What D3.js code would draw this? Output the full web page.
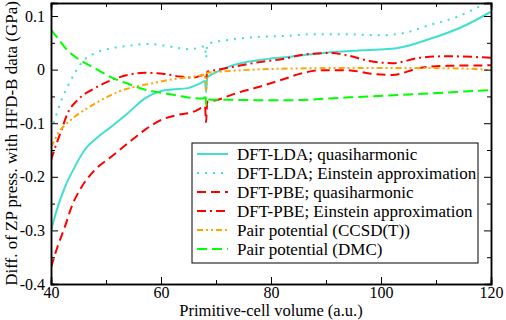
<!DOCTYPE html>
<html>
<head>
<meta charset="utf-8">
<script src="https://cdn.jsdelivr.net/npm/d3@7"></script>
<style>
  body { margin: 0; background: #fff; }
  svg { display: block; font-family: "Liberation Serif", "Times New Roman", serif; }
  .axis text { font-size: 16px; fill: #000; font-family: "Liberation Serif", serif; }
  .axis path, .axis line { stroke: #000; }
</style>
</head>
<body>
<svg id="chart" width="506" height="320"></svg>
<script>
/* values: volume (a.u.) and pressure difference (GPa) */
var ldaQhV = [40, 41.2, 42.5, 44.3, 46.1, 48.5, 50.9, 53.9, 57, 60, 62.1, 64.6, 67.6, 68.0, 68.2, 68.4, 70, 73, 77.9, 83.4, 89.4, 96.6, 102.8, 108.8, 114.8, 120];
var ldaQhP = [-0.30, -0.257, -0.22, -0.182, -0.15, -0.126, -0.107, -0.082, -0.054, -0.04, -0.037, -0.035, -0.023, -0.021, -0.042, -0.015, -0.005, 0.008, 0.018, 0.024, 0.031, 0.036, 0.040, 0.057, 0.080, 0.108];

var ldaEinV = [40.5, 41.9, 43, 44.3, 45.5, 47.9, 50.9, 53.9, 57.5, 60, 62.8, 65.2, 67.6, 68.0, 68.2, 68.4, 68.8, 71.9, 76.1, 82.8, 87.6, 93.7, 99.7, 104, 108.8, 113.7, 118.4, 120];
var ldaEinP = [-0.10, -0.057, -0.032, -0.007, 0.012, 0.030, 0.040, 0.044, 0.048, 0.046, 0.041, 0.038, 0.043, 0.044, 0.022, 0.047, 0.049, 0.055, 0.060, 0.063, 0.066, 0.066, 0.064, 0.068, 0.083, 0.098, 0.120, 0.127];

var pbeQhV = [40, 41.2, 42.5, 43.7, 45.5, 47.9, 50.9, 53.9, 57, 60, 62.8, 65.8, 67.6, 68.0, 68.2, 68.4, 70, 73.7, 77.9, 82.8, 85.2, 89.4, 93.7, 98.5, 102.1, 107, 111.9, 120];
var pbeQhP = [-0.369, -0.33, -0.294, -0.257, -0.22, -0.188, -0.163, -0.138, -0.113, -0.094, -0.085, -0.079, -0.07, -0.068, -0.098, -0.06, -0.057, -0.044, -0.032, -0.016, -0.008, -0.001, -0.001, -0.008, -0.010, 0.003, 0.007, 0.008];

var pbeEinV = [40, 40.6, 41.9, 43, 44.8, 47.9, 50.9, 53.9, 57, 60.6, 63.4, 65.8, 67.6, 68.0, 68.2, 68.4, 69.4, 73, 77.9, 82.8, 85.2, 90.6, 93.7, 97.9, 102.1, 107, 111.9, 120];
var pbeEinP = [-0.169, -0.15, -0.113, -0.082, -0.057, -0.035, -0.020, -0.010, -0.006, -0.008, -0.013, -0.015, -0.010, -0.009, -0.020, -0.004, -0.002, 0.005, 0.014, 0.021, 0.027, 0.031, 0.027, 0.016, 0.012, 0.022, 0.025, 0.022];

var ccsdV = [40, 40.5, 41.2, 42.5, 44.3, 46.6, 49.1, 52.1, 55.2, 58.2, 62.1, 65.8, 67.6, 68.0, 68.2, 68.4, 70.6, 74.9, 83.4, 95, 105, 115, 120];
var ccsdP = [-0.144, -0.135, -0.12, -0.104, -0.088, -0.072, -0.057, -0.042, -0.032, -0.026, -0.018, -0.013, -0.010, -0.009, -0.038, -0.006, -0.004, -0.001, 0.002, 0.003, 0.003, 0.002, -0.001];

var dmcV = [40, 41.2, 43, 44.8, 47.9, 50.9, 53.9, 57, 60, 62.8, 65.8, 67.6, 68.0, 68.1, 68.2, 68.4, 70.6, 77.9, 83.4, 93.7, 105.8, 120];
var dmcP = [0.074, 0.059, 0.036, 0.021, 0.003, -0.014, -0.026, -0.037, -0.043, -0.048, -0.053, -0.054, -0.050, -0.046, -0.066, -0.056, -0.056, -0.057, -0.057, -0.052, -0.046, -0.038];

var seriesNames = ["DFT-LDA; quasiharmonic", "DFT-LDA; Einstein approximation", "DFT-PBE; quasiharmonic",
  "DFT-PBE; Einstein approximation", "Pair potential (CCSD(T))", "Pair potential (DMC)"];
var seriesV = [ldaQhV, ldaEinV, pbeQhV, pbeEinV, ccsdV, dmcV];
var seriesP = [ldaQhP, ldaEinP, pbeQhP, pbeEinP, ccsdP, dmcP];
var seriesColors = ["#40e0d0", "#40e0d0", "#ff0000", "#ff0000", "#ffa500", "#00ff00"];
var seriesDash = [null, "2,6", "9,5", "9,4,2,4", "6,3,2,3,2,3", "10,5"];

var xTicks = [40, 60, 80, 100, 120];
var xMinor = [50, 70, 90, 110];
var yTicks = [-0.4, -0.3, -0.2, -0.1, 0, 0.1];
var yMinor = [-0.35, -0.25, -0.15, -0.05, 0.05];

var margin = {top: 3, right: 15, bottom: 36, left: 51};
var width = 506 - margin.left - margin.right,
    height = 320 - margin.top - margin.bottom;

var svg = d3.select("#chart");
var g = svg.append("g").attr("transform", "translate(" + margin.left + "," + margin.top + ")");

var x = d3.scaleLinear().domain([40, 120]).range([0, width]);
var y = d3.scaleLinear().domain([-0.4, 0.1243]).range([height, 0]);

svg.append("defs").append("clipPath").attr("id", "clip")
  .append("rect").attr("width", width).attr("height", height);

// curves
var line = d3.line()
  .x(function(d) { return x(d[0]); })
  .y(function(d) { return y(d[1]); })
  .curve(d3.curveMonotoneX);

var curves = g.append("g").attr("clip-path", "url(#clip)");
seriesNames.forEach(function(name, i) {
  var pts = seriesV[i].map(function(v, j) { return [v, seriesP[i][j]]; });
  curves.append("path")
    .datum(pts)
    .attr("d", line)
    .attr("fill", "none")
    .attr("stroke", seriesColors[i])
    .attr("stroke-width", 2)
    .attr("stroke-dasharray", seriesDash[i]);
});

// axes, ticks point inward on all four sides
function yFmt(d) {
  if (Math.abs(d) < 1e-9) return "0";
  return (d < 0 ? "-" : "") + Math.abs(d).toFixed(1);
}

g.append("g").attr("class", "axis")
  .attr("transform", "translate(0," + height + ")")
  .call(d3.axisBottom(x).tickValues(xTicks).tickSize(-7).tickPadding(3).tickFormat(d3.format("d")));
g.append("g").attr("class", "axis")
  .attr("transform", "translate(0," + height + ")")
  .call(d3.axisBottom(x).tickValues(xMinor).tickSize(-4).tickFormat(""));
g.append("g").attr("class", "axis")
  .call(d3.axisTop(x).tickValues(xTicks).tickSize(-7).tickFormat(""));
g.append("g").attr("class", "axis")
  .call(d3.axisTop(x).tickValues(xMinor).tickSize(-4).tickFormat(""));

g.append("g").attr("class", "axis")
  .call(d3.axisLeft(y).tickValues(yTicks).tickSize(-7).tickPadding(6).tickFormat(yFmt));
g.append("g").attr("class", "axis")
  .call(d3.axisLeft(y).tickValues(yMinor).tickSize(-4).tickFormat(""));
g.append("g").attr("class", "axis")
  .attr("transform", "translate(" + width + ",0)")
  .call(d3.axisRight(y).tickValues(yTicks).tickSize(-7).tickFormat(""));
g.append("g").attr("class", "axis")
  .attr("transform", "translate(" + width + ",0)")
  .call(d3.axisRight(y).tickValues(yMinor).tickSize(-4).tickFormat(""));

g.selectAll(".axis .domain").attr("stroke-width", 1.5);

// axis titles
svg.append("text")
  .attr("x", margin.left + width / 2)
  .attr("y", 316)
  .attr("text-anchor", "middle")
  .style("font-size", "16.5px")
  .text("Primitive-cell volume (a.u.)");

svg.append("text")
  .attr("transform", "translate(17," + (margin.top + height / 2) + ") rotate(-90)")
  .attr("text-anchor", "middle")
  .style("font-size", "17px")
  .text("Diff. of ZP press. with HFD-B data (GPa)");

// legend
var legend = svg.append("g").attr("transform", "translate(192,143)");
legend.append("rect")
  .attr("width", 286).attr("height", 120)
  .attr("fill", "#fff").attr("stroke", "#000").attr("stroke-width", 1);

seriesNames.forEach(function(name, i) {
  var row = legend.append("g").attr("transform", "translate(0," + (11 + i * 19) + ")");
  row.append("line")
    .attr("x1", 5).attr("x2", 36)
    .attr("stroke", seriesColors[i])
    .attr("stroke-width", 2)
    .attr("stroke-dasharray", seriesDash[i]);
  row.append("text")
    .attr("x", 45).attr("y", 5.5)
    .style("font-size", "17px")
    .text(name);
});
</script>
</body>
</html>
